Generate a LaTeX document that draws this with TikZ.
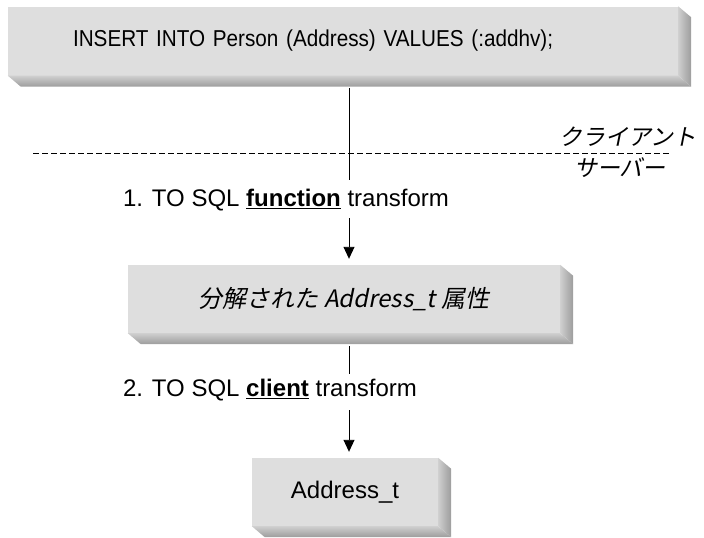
\documentclass[tikz,border=0pt]{standalone}
\usepackage{fontspec}
\setmainfont{Liberation Sans}
\newfontfamily\narrowfont[FakeStretch=0.9]{Liberation Sans}
\newfontfamily\jpfont[FakeSlant=0.2]{Noto Sans CJK JP}
\usetikzlibrary{arrows.meta,calc}

\definecolor{slabface}{HTML}{DEDEDE}
\definecolor{slablight}{HTML}{CFCFCF}
\definecolor{slabdark}{HTML}{9C9C9C}

% bold word with a heavy underline
\newcommand\ulbf[1]{\setbox0\hbox{\textbf{#1}}\rlap{\rule[-3pt]{\wd0}{1.6pt}}\box0\relax}

% extruded edge on the right and at the bottom of a slab node
\newcommand\slabedge[1]{%
  \shade[left color=slablight,right color=slabdark]
    (#1.north east) -- ++(13,11) -- ($(#1.south east)+(13,11)$)
    -- (#1.south east) -- cycle;
  \shade[top color=slablight,bottom color=slabdark]
    (#1.south west) -- (#1.south east) -- ++(13,11)
    -- ($(#1.south west)+(13,11)$) -- cycle;
}

\begin{document}
\begin{tikzpicture}[x=1pt,y=-1pt,
    slab/.style={rectangle,fill=slabface,inner sep=0pt,anchor=center},
    plain/.style={font=\fontsize{24}{28}\selectfont},
    jp/.style={font=\fontsize{23}{27}\selectfont\jpfont},
    flow/.style={line width=0.9pt},
    flowarrow/.style={line width=0.9pt,-{Triangle[width=11pt,length=12pt]}}]

  \useasboundingbox (0,0) rectangle (704,538);

  % top statement
  \node [slab,minimum width=670pt,minimum height=69pt,
    text width=540pt,inner xsep=65pt,align=left,
    font=\fontsize{23}{27}\narrowfont] (insert) at (343,41)
    {INSERT INTO Person (Address) VALUES (:addhv);};
  \slabedge{insert}

  % client / server border
  \coordinate (borderL) at (33,153);
  \coordinate (borderR) at (670,153);
  \draw [dashed,dash pattern=on 6pt off 3pt,line width=0.8pt] (borderL) -- (borderR);
  \node [jp,anchor=east] (client) at (700,137) {クライアント};
  \node [jp] (server) at (620,168) {サーバー};

  % step 1
  \node [plain] (step1) at (286,200) {1. TO SQL \ulbf{function} transform};

  \node [slab,minimum width=432pt,minimum height=68pt,
    font=\fontsize{24}{28}\selectfont\jpfont] (attrs) at (344,299)
    {分解された Address\_t 属性};
  \slabedge{attrs}

  % step 2
  \node [plain] (step2) at (270,390) {2. TO SQL \ulbf{client} transform};

  \node [slab,minimum width=186pt,minimum height=68pt,plain] (addr) at (345,492)
    {Address\_t};
  \slabedge{addr}

  % connectors
  \coordinate (c1a) at (349,88);
  \coordinate (c1b) at (349,180);
  \coordinate (c2a) at (349,218);
  \coordinate (c3a) at (349,346);
  \coordinate (c3b) at (349,374);
  \coordinate (c4a) at (349,410);

  \draw [flow] (c1a) -- (c1b);
  \draw [flowarrow,shorten >=6pt] (c2a) -- (c2a |- attrs.north);
  \draw [flow] (c3a) -- (c3b);
  \draw [flowarrow,shorten >=6pt] (c4a) -- (c4a |- addr.north);
\end{tikzpicture}
\end{document}
